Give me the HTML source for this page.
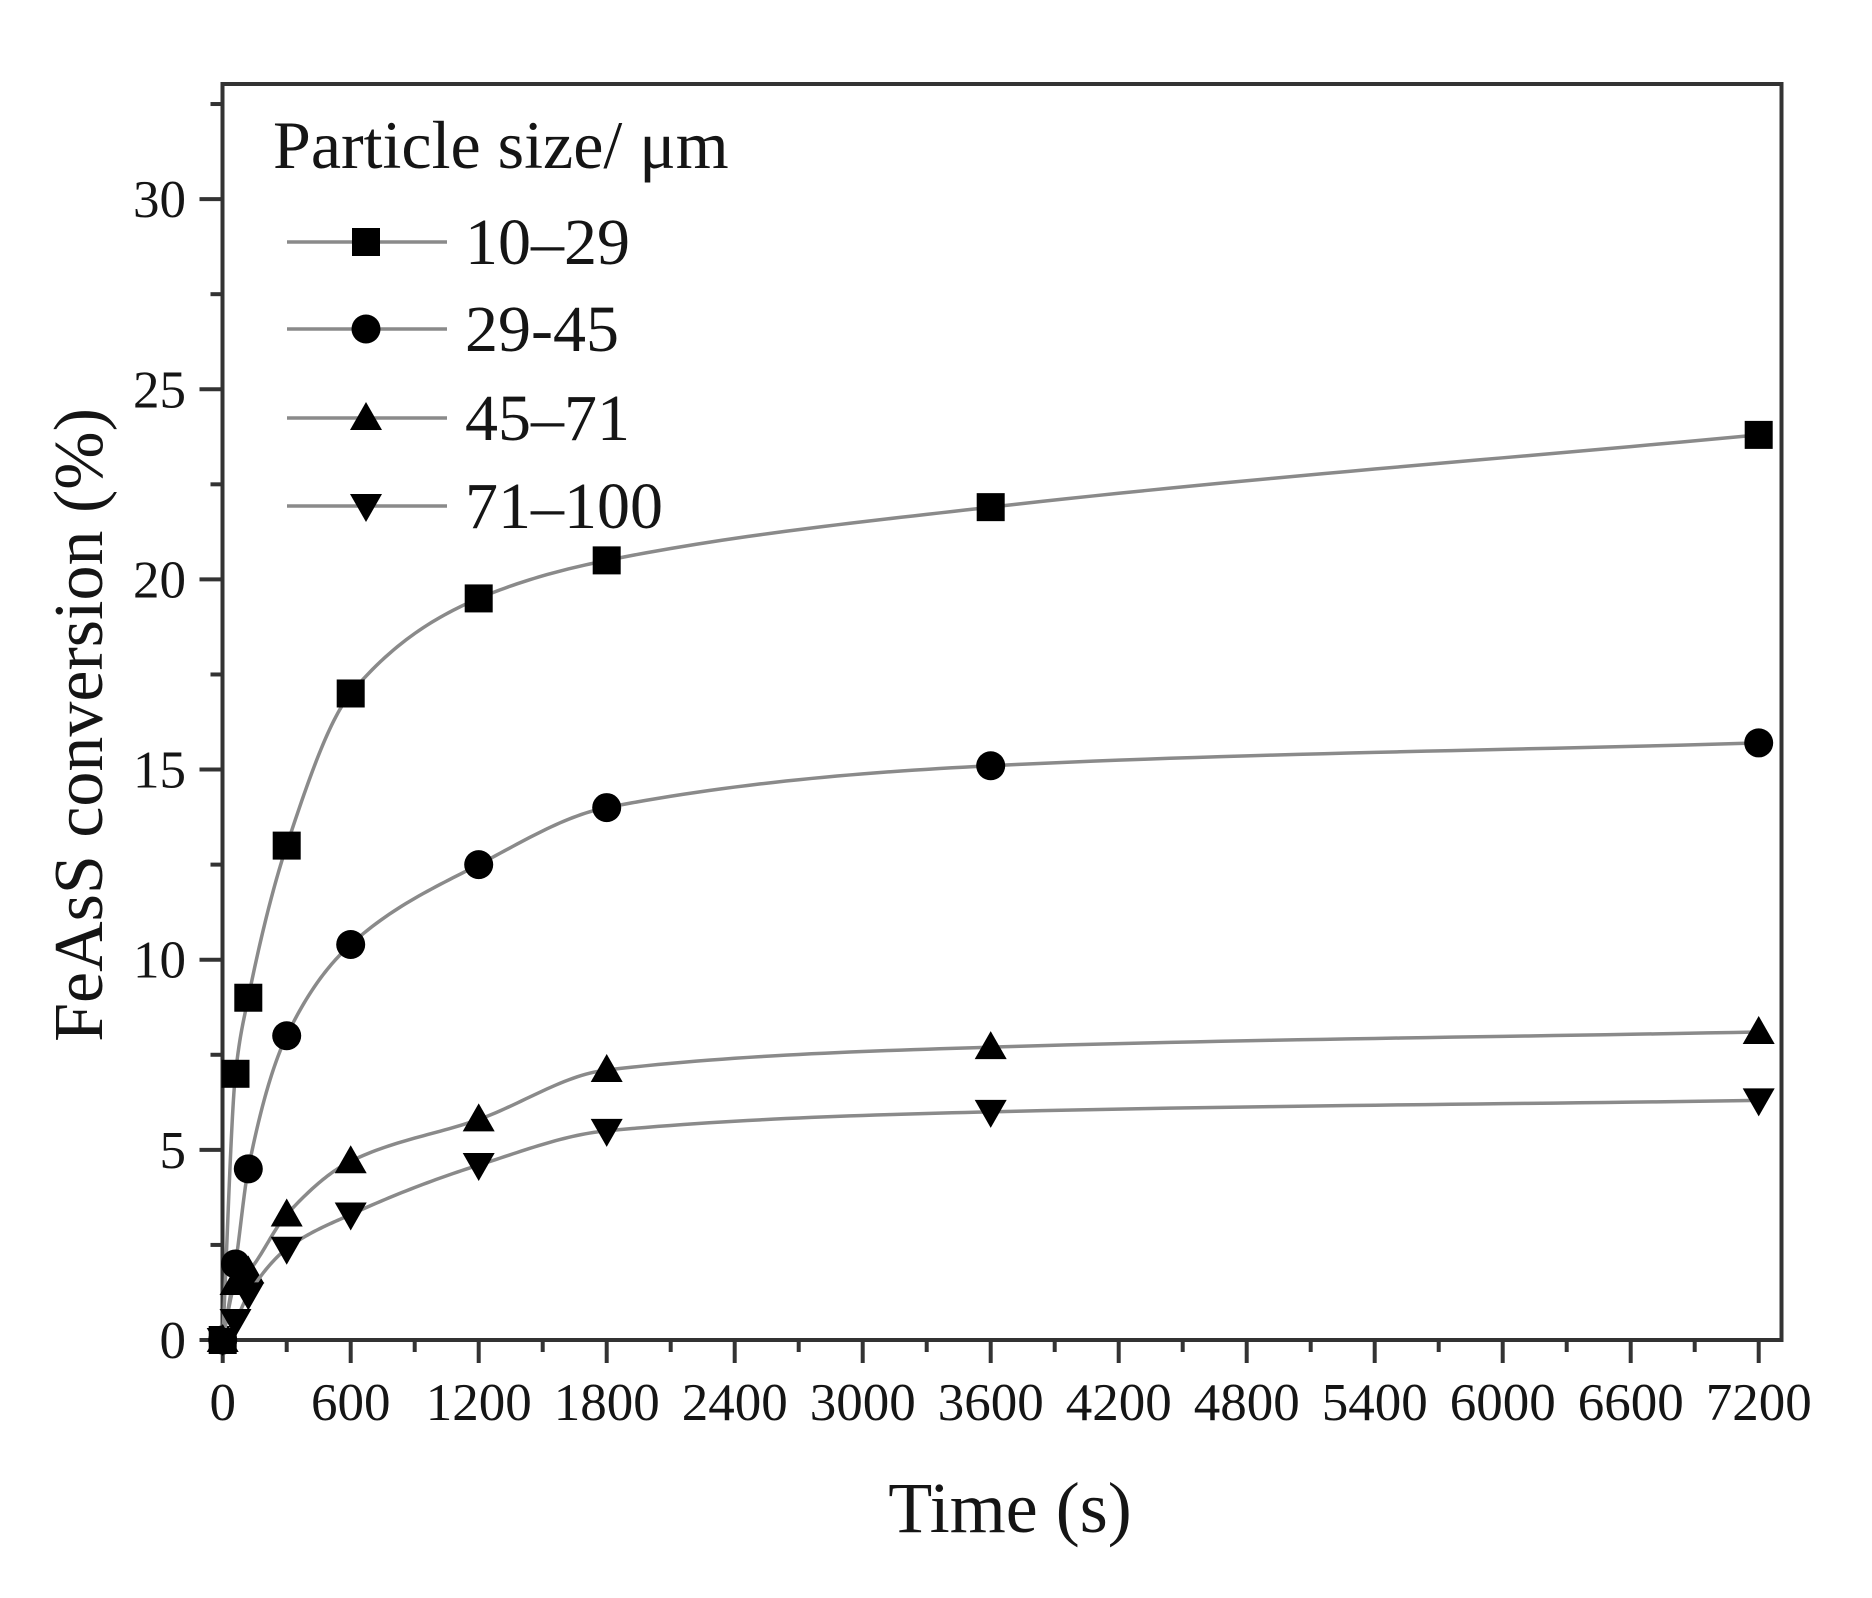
<!DOCTYPE html>
<html><head><meta charset="utf-8"><style>
html,body{margin:0;padding:0;background:#fff;}
svg text{font-family:"Liberation Serif",serif;fill:#151515;}
</style></head><body>
<svg id="chart" width="1872" height="1593" viewBox="0 0 1872 1593" xmlns="http://www.w3.org/2000/svg">
<g id="plot"></g>
</svg>
<script>
const times = [0, 60, 120, 300, 600, 1200, 1800, 3600, 7200];
const s10_29 = [0, 7, 9, 13, 17, 19.5, 20.5, 21.9, 23.8];
const s29_45 = [0, 2, 4.5, 8, 10.4, 12.5, 14, 15.1, 15.7];
const s45_71 = [0, 1.5, 1.8, 3.3, 4.7, 5.8, 7.1, 7.7, 8.1];
const s71_100 = [0, 0.5, 1.2, 2.4, 3.3, 4.6, 5.5, 6.0, 6.3];
const seriesNames = ["10\u201329", "29-45", "45\u201371", "71\u2013100"];
const seriesMarkers = ["square", "circle", "triangle", "down"];
const xTicks = [0, 600, 1200, 1800, 2400, 3000, 3600, 4200, 4800, 5400, 6000, 6600, 7200];
const yTicks = [0, 5, 10, 15, 20, 25, 30];

const NS = "http://www.w3.org/2000/svg";
const X0 = 222.7, Y0 = 1340, PX = 128 / 600, PY = 38.03;
const L = 222.5, R = 1781.5, T = 84, B = 1340;
function sx(v) { return X0 + v * PX; }
function sy(v) { return Y0 - v * PY; }
const g = document.getElementById('plot');
function mk(tag, attrs, parent) {
  const e = document.createElementNS(NS, tag);
  for (const k in attrs) e.setAttribute(k, attrs[k]);
  (parent || g).appendChild(e);
  return e;
}
function marker(type, x, y, parent) {
  const s = 14;
  let e;
  if (type === "square") e = mk('rect', {x: x - s, y: y - s, width: 2 * s, height: 2 * s, fill: '#000'}, parent);
  else if (type === "circle") e = mk('circle', {cx: x, cy: y, r: 14.5, fill: '#000'}, parent);
  else if (type === "triangle") e = mk('polygon', {points: `${x},${y - 16} ${x - 16},${y + 12} ${x + 16},${y + 12}`, fill: '#000'}, parent);
  else e = mk('polygon', {points: `${x},${y + 16} ${x - 16},${y - 12} ${x + 16},${y - 12}`, fill: '#000'}, parent);
  return e;
}
function smoothPath(xs, ys) {
  const n = xs.length, d = [], m = [];
  for (let i = 0; i < n - 1; i++) d.push((ys[i + 1] - ys[i]) / (xs[i + 1] - xs[i]));
  m[0] = d[0]; m[n - 1] = d[n - 2];
  for (let i = 1; i < n - 1; i++) {
    if (d[i - 1] * d[i] <= 0) m[i] = 0;
    else {
      const h0 = xs[i] - xs[i - 1], h1 = xs[i + 1] - xs[i];
      const w1 = 2 * h1 + h0, w2 = h1 + 2 * h0;
      m[i] = (w1 + w2) / (w1 / d[i - 1] + w2 / d[i]);
    }
  }
  let path = `M${sx(xs[0])},${sy(ys[0])}`;
  for (let i = 0; i < n - 1; i++) {
    const h = xs[i + 1] - xs[i];
    for (let k = 1; k <= 30; k++) {
      const t = k / 30, t2 = t * t, t3 = t2 * t;
      const y = (2 * t3 - 3 * t2 + 1) * ys[i] + (t3 - 2 * t2 + t) * h * m[i] + (-2 * t3 + 3 * t2) * ys[i + 1] + (t3 - t2) * h * m[i + 1];
      path += ` L${sx(xs[i] + t * h).toFixed(2)},${sy(y).toFixed(2)}`;
    }
  }
  return path;
}
const frame = mk('rect', {x: L, y: T, width: R - L, height: B - T, fill: 'none', stroke: '#333', 'stroke-width': 4});


for (let v = 0; v <= 7200; v += 300) {
  const major = v % 600 === 0;
  const t = mk('line', {x1: sx(v), x2: sx(v), y1: B, y2: B + (major ? 23 : 12), stroke: '#333', 'stroke-width': 4});
  
  
}
xTicks.forEach(v => {
  const t = mk('text', {x: sx(v), y: 1420, 'text-anchor': 'middle', 'font-size': 53});
  t.textContent = v;
  
  
});
for (let v = 0; v <= 32.5; v += 2.5) {
  const major = v % 5 === 0;
  const t = mk('line', {x1: L, x2: L - (major ? 23 : 12), y1: sy(v), y2: sy(v), stroke: '#333', 'stroke-width': 4});
  
  
}
yTicks.forEach(v => {
  const t = mk('text', {x: 186, y: sy(v) + 18, 'text-anchor': 'end', 'font-size': 53});
  t.textContent = v;
  
  
});
const xt = mk('text', {x: 1010, y: 1532, 'text-anchor': 'middle', 'font-size': 72});
xt.textContent = 'Time (s)';


const yt = mk('text', {x: 0, y: 0, 'text-anchor': 'middle', 'font-size': 70, transform: 'translate(102,725) rotate(-90)'});
yt.textContent = 'FeAsS conversion (%)';


const allSeries = [s10_29, s29_45, s45_71, s71_100];
allSeries.forEach((vals, i) => {
  const sg = mk('g', {});
  
  
  const p = mk('path', {d: smoothPath(times, vals), fill: 'none', stroke: '#8a8a8a', 'stroke-width': 3.5}, sg);
  
  
  vals.forEach((v, j) => {
    const m = marker(seriesMarkers[i], sx(times[j]), sy(v), sg);
    
    
  });
});
const lg = mk('g', {});


const lt = mk('text', {x: 273, y: 168, 'font-size': 68}, lg);
lt.textContent = 'Particle size/ \u03bcm';


const rows = [242, 329, 418, 506];
seriesNames.forEach((n, i) => {
  const eg = mk('g', {}, lg);
  
  
  mk('line', {x1: 287, x2: 447, y1: rows[i], y2: rows[i], stroke: '#8a8a8a', 'stroke-width': 3.5}, eg);
  marker(seriesMarkers[i], 366, rows[i], eg);
  const t = mk('text', {x: 465, y: rows[i] + 22, 'font-size': 66}, eg);
  t.textContent = n;
});
</script>
</body></html>
